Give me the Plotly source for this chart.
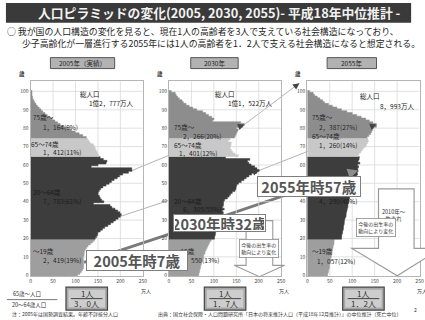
import plotly.graph_objects as go

W, H = 425, 320
FONT = "Noto Sans CJK JP"

ages = list(range(0, 101))

# Population by single year of age, in units of 10,000 persons (age 100 = 100 and over)
pop_2005 = [
    105, 110, 113, 116, 118, 119, 119, 119, 118, 117,
    118, 119, 120, 120, 122, 125, 128, 133, 138, 142,
    144, 147, 149, 150, 155, 160, 165, 172, 178, 184,
    189, 195, 200, 202, 199, 194, 188, 181, 177, 140,
    163, 158, 155, 153, 150, 151, 153, 156, 161, 168,
    175, 180, 186, 193, 198, 205, 218, 226, 225, 135,
    150, 168, 170, 162, 155, 152, 150, 148, 146, 144,
    142, 140, 133, 130, 127, 124, 116, 108, 99, 91,
    83, 74, 66, 60, 54, 48, 43, 37, 32, 27,
    23, 19, 15, 12, 9, 7, 5, 4, 3, 2,
    3,
]
pop_2030 = [
    66, 67, 68, 69, 70, 71, 72, 73, 74, 75,
    77, 78, 80, 81, 83, 85, 87, 89, 91, 94,
    101, 102, 103, 104, 105, 106, 111, 112, 115, 117,
    119, 118, 120, 119, 121, 119, 123, 119, 121, 122,
    122, 124, 130, 134, 137, 141, 147, 149, 150, 151,
    155, 161, 167, 172, 178, 184, 196, 201, 196, 191,
    183, 178, 175, 180, 126, 155, 147, 142, 139, 136,
    137, 138, 139, 132, 136, 146, 148, 150, 152, 154,
    150, 165, 168, 160, 97, 100, 95, 88, 82, 75,
    62, 53, 45, 38, 32, 29, 23, 19, 16, 14,
    5,
]
pop_2055 = [
    45, 46, 47, 48, 49, 50, 50, 51, 52, 52,
    53, 54, 55, 55, 56, 57, 58, 59, 60, 60,
    76, 77, 77, 78, 79, 80, 80, 81, 82, 83,
    83, 84, 86, 87, 87, 88, 89, 90, 90, 91,
    92, 93, 94, 94, 95, 95, 97, 99, 100, 101,
    100, 104, 105, 108, 110, 112, 111, 113, 112, 114,
    112, 117, 113, 115, 116, 113, 115, 119, 122, 125,
    129, 132, 134, 136, 135, 133, 137, 141, 143, 145,
    147, 154, 154, 146, 138, 130, 120, 110, 100, 88,
    76, 66, 56, 47, 38, 34, 28, 22, 16, 13,
    5,
]

series = [pop_2005, pop_2030, pop_2055]
panel_titles = ["2005年（実績）", "2030年", "2055年"]
total_text = ["1億2，777万人", "1億1，522万人", "8，993万人"]
callouts = ["2005年時7歳", "2030年時32歳", "2055年時57歳"]

group_names = ["～19歳", "20～64歳", "65～74歳", "75歳～"]
group_lo = [0, 20, 65, 75]
group_hi = [19, 64, 74, 100]
group_colors = ["#9e9e9e", "#3d3d3d", "#c8c8c8", "#8d8d8d"]
group_text_colors = ["#262626", "#1c1c1c", "#262626", "#262626"]

x_ticks = [0, 50, 100, 150, 200, 250]
y_ticks = list(range(0, 101, 10))

# cohorts followed from panel to panel (age in each panel)
cohort_boom1 = [57, 82]
cohort_boom2 = [32, 57, 82]
cohort_young = [7, 32, 57]

# ---- geometry (pixels) ----
X0 = [30, 170, 310]
PW = 113.5
YT, YB = 81.8, 277.9
XR = (0, 250)
YR = (-0.5, 105.5)


def xpx(i, v):
    return X0[i] + (v - XR[0]) / (XR[1] - XR[0]) * PW


def ypx(a):
    return YB - (a - YR[0]) / (YR[1] - YR[0]) * (YB - YT)


def P(px, py):
    return px / W, 1 - py / H


fig = go.Figure()
annotations = []
shapes = []


def text(px, py, s, size, color="#222222", xanchor="center", **kw):
    x, y = P(px, py)
    d = dict(xref="paper", yref="paper", x=x, y=y, text=s, showarrow=False,
             xanchor=xanchor, yanchor="middle",
             font=dict(family=FONT, size=size, color=color))
    d.update(kw)
    annotations.append(d)


def rect(x0, y0, x1, y1, fill, line="rgba(0,0,0,0)", width=0, layer="above"):
    a, b = P(x0, y0)
    c, d = P(x1, y1)
    shapes.append(dict(type="rect", xref="paper", yref="paper", x0=a, y0=d, x1=c, y1=b,
                       fillcolor=fill, line=dict(color=line, width=width), layer=layer))


def seg(x0, y0, x1, y1, color, width, layer="below"):
    a, b = P(x0, y0)
    c, d = P(x1, y1)
    shapes.append(dict(type="line", xref="paper", yref="paper", x0=a, y0=b, x1=c, y1=d,
                       line=dict(color=color, width=width), layer=layer))


def arrowhead(tx, ty, hx, hy, color, width, size):
    dx, dy = hx - tx, hy - ty
    L = (dx * dx + dy * dy) ** 0.5
    x, y = P(hx, hy)
    annotations.append(dict(xref="paper", yref="paper", x=x, y=y,
                            ax=-dx / L * 7, ay=-dy / L * 7, axref="pixel", ayref="pixel",
                            text="", showarrow=True, arrowhead=2, arrowsize=size,
                            arrowwidth=width, arrowcolor=color, standoff=0))


# ---- grid drawn underneath the pyramids ----
for i in range(3):
    sx = "" if i == 0 else str(i + 1)
    for t in x_ticks[1:-1]:
        shapes.append(dict(type="line", xref="x" + sx, yref="y" + sx, x0=t, x1=t,
                           y0=YR[0], y1=YR[1], line=dict(color="#d9d9d9", width=0.8),
                           layer="below"))
    for t in y_ticks[1:]:
        shapes.append(dict(type="line", xref="x" + sx, yref="y" + sx, x0=XR[0], x1=XR[1],
                           y0=t, y1=t, line=dict(color="#d9d9d9", width=0.8),
                           layer="below"))

# ---- pyramids: one filled step outline per age group, one step per year of age ----
for i, pop in enumerate(series):
    sx = "" if i == 0 else str(i + 1)
    for g in range(4):
        lo, hi = group_lo[g], group_hi[g]
        xs, ys = [], []
        for a in ages[lo:hi + 1]:
            xs += [pop[a], pop[a]]
            ys += [a - 0.5, a + 0.5]
        xs += [0, 0]
        ys += [hi + 0.5, lo - 0.5]
        fig.add_trace(go.Scatter(
            x=xs, y=ys, mode="lines", fill="toself", fillcolor=group_colors[g],
            line=dict(width=0.5, color=group_colors[g]),
            xaxis="x" + sx, yaxis="y" + sx, hoverinfo="skip", showlegend=False))

# ---- title and lead text ----
rect(5, 3, 415, 23, "#3a3a3a")
text(221, 13, "<b>人口ピラミッドの変化(2005, 2030, 2055)- 平成18年中位推計 -</b>", 12.8, "#f2f2f2")
text(4, 32, "○ 我が国の人口構造の変化を見ると、現在1人の高齢者を3人で支えている社会構造になっており、",
     8.9, "#1e1e1e", xanchor="left")
text(19, 43.5, "少子高齢化が一層進行する2055年には1人の高齢者を1．2人で支える社会構造になると想定される。",
     8.9, "#1e1e1e", xanchor="left")

# ---- panel headers ----
header_box = [(50, 115), (192, 240), (330, 380)]
for i in range(3):
    a, b = header_box[i]
    rect(a, 58, b, 69, "#b2b2b2", "#555555", 1)
    text((a + b) / 2, 63.5, panel_titles[i], 6.5, "#222222")

# ---- cohort lines (drawn beneath the pyramids) ----
def cohort_pt(i, age):
    return xpx(i, series[i][age]), ypx(age)

p1 = cohort_pt(0, cohort_boom1[0])
p2 = cohort_pt(1, cohort_boom1[1])
p3 = (xpx(2, 0) - 8, ypx(104.5))
q1, q2, q3 = (cohort_pt(k, a) for k, a in enumerate(cohort_boom2))
r1, r2, r3 = (cohort_pt(k, a) for k, a in enumerate(cohort_young))

for a, b in [(p1, p2), (p2, p3), (q1, q2), (q2, q3)]:
    seg(a[0], a[1], b[0], b[1], "#b4b4b4", 1)
for a, b in [(r1, r2), (r2, r3)]:
    seg(a[0], a[1], b[0], b[1], "#7a7a7a", 2.8)

for a, b in [(p1, p2), (p2, p3), (q1, q2), (q2, q3)]:
    arrowhead(a[0], a[1], b[0], b[1], "#444444", 1, 1.3)
for a, b in [(r1, r2), (r2, r3)]:
    arrowhead(a[0], a[1], b[0], b[1], "#8c8c8c", 2.6, 0.8)

# ---- downward arrows for births not yet observed ----
def arrow_path(bl, br, top, base, wl, wr, tip_x, tip_y):
    pts = [(bl, top), (br, top), (br, base), (wr, base), (tip_x, tip_y), (wl, base), (bl, base)]
    s = ""
    for k, (x, y) in enumerate(pts):
        u, v = P(x, y)
        s += ("M" if k == 0 else "L") + f"{u:.5f},{v:.5f} "
    return s + "Z"

shapes.append(dict(type="path", xref="paper", yref="paper",
                   path=arrow_path(248, 275, 222, 267, 236, 287, 261.5, 278.5),
                   fillcolor="white", line=dict(color="#9a9a9a", width=1.1), layer="above"))
shapes.append(dict(type="path", xref="paper", yref="paper",
                   path=arrow_path(382, 418, 190, 250, 355, 445, 401, 277.5),
                   fillcolor="white", line=dict(color="#9a9a9a", width=1.2), layer="above"))

text(259, 245, "生まれ", 5.5, "#333333")
text(397.5, 217, "2010年～<br>生まれ", 5.5, "#333333")

# ---- totals and group labels ----
total_pos = [((90, 95), (112, 104)), ((227, 95), (252, 104)), ((373, 97), (401, 107))]
label_pos = [
    [(30, 253, 40, 262), (30, 193, 40, 202), (28, 145, 40, 153), (30, 118, 40, 128)],
    [(173, 253, 180, 262), (173, 202, 182, 210), (173, 146, 178, 154), (173, 128, 182, 137)],
    [(313, 253, 318, 263), (313, 193, 320, 202), (313, 137, 320, 146), (313, 118, 320, 128)],
]

ratio_text = []
for i, pop in enumerate(series):
    sums = [sum(pop[group_lo[g]:group_hi[g] + 1]) for g in range(4)]
    tot = sum(sums)
    (ax_, ay_), (bx_, by_) = total_pos[i]
    text(ax_, ay_, "総人口", 6.5, "#222222")
    text(bx_, by_, total_text[i], 6.5, "#222222")
    for g in range(4):
        lx, ly, vx, vy = label_pos[i][g]
        pct = round(100 * sums[g] / tot)
        val = f"{sums[g]:,}".replace(",", "，") + f"({pct}%)"
        text(lx, ly, group_names[g], 6.5, group_text_colors[g], xanchor="left")
        text(vx, vy, val, 6.5, group_text_colors[g], xanchor="left")
    ratio = sums[1] / (sums[2] + sums[3])
    ratio_text.append(f"{ratio:.1f}".replace(".", "．") + "人")

# ---- axis captions ----
for i in range(3):
    text(X0[i] - 9, 74.5, "<b>歳</b>", 5.5, "#333333")
    text(X0[i] + PW + 3, 293, "万人", 5, "#333333")

# ---- support ratio boxes ----
text(26, 296, "65歳～人口", 5.5, "#333333")
seg(6, 301.5, 57, 301.5, "#555555", 0.8, layer="above")
text(28, 307, "20～64歳人口", 5.5, "#333333")
for i in range(3):
    cx = X0[i] + PW / 2
    rect(cx - 21, 289, cx + 21, 312, "#a8a8a8", "#444444", 1.2)
    rect(cx - 18.5, 291.5, cx + 18.5, 309.5, "#cdcdcd")
    seg(cx - 16, 300.5, cx + 16, 300.5, "#444444", 1, layer="above")
    text(cx, 295.5, "1人", 8, "#333333")
    text(cx, 305.5, ratio_text[i], 8, "#333333")

# ---- footnotes ----
text(9, 316, "注：2005年は国勢調査結果。年齢不詳按分人口", 5, "#333333", xanchor="left")
text(157, 316, "出典：国立社会保障・人口問題研究所「日本の将来推計人口（平成18年12月推計）」の中位推計（死亡中位）",
     5, "#333333", xanchor="left")
text(419, 311, "2", 5, "#333333")

# ---- note boxes ----
for cx, cy in [(261.5, 259.5), (400, 238.5)]:
    x, y = P(cx, cy)
    annotations.append(dict(xref="paper", yref="paper", x=x, y=y, showarrow=False,
                            text="今後の出生率の<br>動向により変化",
                            font=dict(family=FONT, size=5, color="#333333"),
                            bgcolor="white", bordercolor="#8a8a8a", borderwidth=0.8, borderpad=1.5))

# ---- cohort callouts ----
callout_box = [(86, 272.5, 98, 17), (221.5, 233.5, 89, 14), (364, 187.5, 100, 17)]
for i in range(3):
    cx, cy, bw, bh = callout_box[i]
    x, y = P(cx, cy)
    annotations.append(dict(xref="paper", yref="paper", x=x, y=y, showarrow=False,
                            text="<b>" + callouts[i] + "</b>", width=bw, height=bh,
                            font=dict(family=FONT, size=14.5, color="#555555"),
                            bgcolor="white", bordercolor="#7f7f7f", borderwidth=1, borderpad=1))

# ---- axes ----
layout = dict(
    width=W, height=H, margin=dict(l=0, r=0, t=0, b=0),
    paper_bgcolor="white", plot_bgcolor="rgba(0,0,0,0)",
    hovermode=False,
    font=dict(family=FONT, size=5, color="#444444"),
    annotations=annotations, shapes=shapes,
)
for i in range(3):
    sx = "" if i == 0 else str(i + 1)
    layout["xaxis" + sx] = dict(
        domain=[X0[i] / W, (X0[i] + PW) / W], range=list(XR), anchor="y" + sx,
        tickvals=x_ticks, ticks="", showgrid=False,
        zeroline=False, showline=True, linecolor="#b5b5b5", linewidth=1, mirror=True,
        tickfont=dict(family=FONT, size=5, color="#444444"), fixedrange=True)
    layout["yaxis" + sx] = dict(
        domain=[1 - YB / H, 1 - YT / H], range=list(YR), anchor="x" + sx,
        tickvals=y_ticks, ticks="", showgrid=False,
        zeroline=False, showline=True, linecolor="#b5b5b5", linewidth=1, mirror=True,
        tickfont=dict(family=FONT, size=5, color="#444444"), fixedrange=True)

fig.update_layout(**layout)
fig.write_html("out.html")
